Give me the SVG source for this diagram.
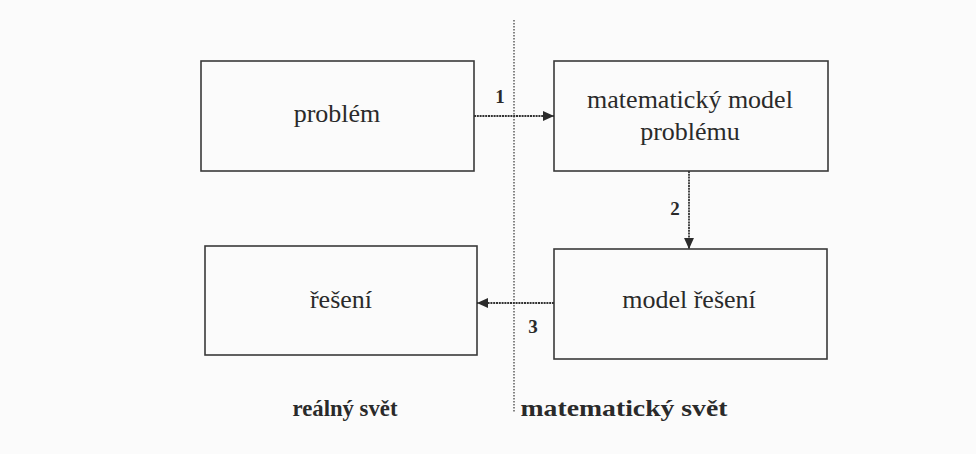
<svg xmlns="http://www.w3.org/2000/svg" width="976" height="454" viewBox="0 0 976 454">
  <defs>
    <marker id="arr" viewBox="0 0 10 10" refX="10" refY="5" markerWidth="11" markerHeight="11" markerUnits="userSpaceOnUse" orient="auto">
      <path d="M0,0.5 L10,5 L0,9.5 Z" fill="#2b2b2b"/>
    </marker>
  </defs>
  <style>
    .box { fill: none; stroke: #3a3a3a; stroke-width: 1.6; }
    text { font-family: "Liberation Serif", Tinos, "DejaVu Serif", serif; fill: #2a2a2a; text-anchor: middle; }
    .lbl { font-size: 26px; }
    .num { font-size: 19px; font-weight: bold; }
    .cap { font-size: 23px; font-weight: bold; }
    .conn { stroke: #333; stroke-width: 1.8; stroke-dasharray: 2 0.8; fill: none; }
    .divider { stroke: #444; stroke-width: 1.3; stroke-dasharray: 1.5 1.5; fill: none; }
  </style>
  <rect width="976" height="454" fill="#fbfbfb"/>
  <line class="divider" x1="514" y1="20" x2="514" y2="412"/>
  <g id="n-problem">
    <rect class="box" x="201" y="61" width="273" height="110"/>
    <text class="lbl" x="337" y="122">problém</text>
  </g>
  <g id="n-model-problemu">
    <rect class="box" x="554" y="61" width="274" height="110"/>
    <text class="lbl" x="690" y="108">matematický model</text>
    <text class="lbl" x="690" y="140">problému</text>
  </g>
  <g id="n-model-reseni">
    <rect class="box" x="554" y="249" width="273" height="110"/>
    <text class="lbl" x="689" y="308">model řešení</text>
  </g>
  <g id="n-reseni">
    <rect class="box" x="205" y="246" width="272" height="109"/>
    <text class="lbl" x="341" y="308">řešení</text>
  </g>
  <g id="connectors">
    <line class="conn" x1="474" y1="116" x2="554" y2="116" marker-end="url(#arr)"/>
    <line class="conn" x1="689" y1="171" x2="689" y2="249" marker-end="url(#arr)"/>
    <line class="conn" x1="554" y1="303" x2="477" y2="303" marker-end="url(#arr)"/>
    <text class="num" x="500" y="103">1</text>
    <text class="num" x="675" y="215">2</text>
    <text class="num" x="533" y="333">3</text>
  </g>
  <g id="captions">
    <text class="cap" x="345" y="416" textLength="105" lengthAdjust="spacingAndGlyphs">reálný svět</text>
    <text class="cap" x="624" y="416" textLength="207" lengthAdjust="spacingAndGlyphs">matematický svět</text>
  </g>
</svg>
